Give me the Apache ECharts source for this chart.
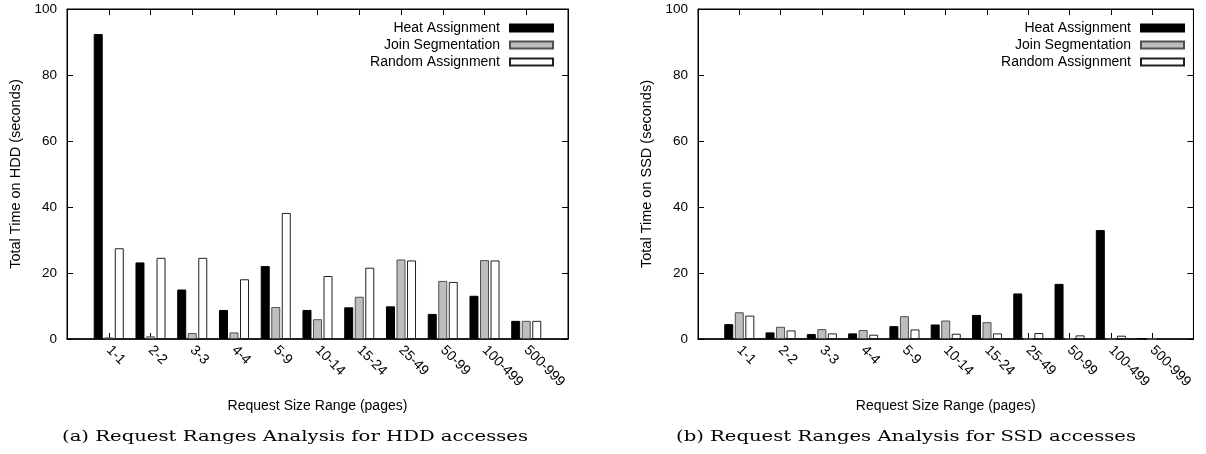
<!DOCTYPE html>
<html>
<head>
<meta charset="utf-8">
<script src="https://cdn.jsdelivr.net/npm/echarts@6/dist/echarts.min.js"></script>
<style>
  html, body { margin: 0; padding: 0; background: #fff; }
  #chart { width: 1206px; height: 454px; }
</style>
</head>
<body>
<div id="chart"></div>
<script>
// Request size ranges (pages)
const categories = ['1-1', '2-2', '3-3', '4-4', '5-9', '10-14', '15-24', '25-49', '50-99', '100-499', '500-999'];

// Total time on HDD (seconds)
const hddHeat   = [92.4, 23.2, 15.0, 8.8, 22.1, 8.8, 9.6, 9.9, 7.6, 13.1, 5.5];
const hddJoin   = [0.5, 0.8, 1.8, 2.0, 9.7, 6.0, 12.8, 24.1, 17.6, 23.9, 5.5];
const hddRandom = [27.5, 24.6, 24.6, 18.1, 38.2, 19.1, 21.6, 23.8, 17.3, 23.8, 5.5];

// Total time on SSD (seconds)
const ssdHeat   = [4.5, 2.0, 1.5, 1.7, 3.9, 4.4, 7.3, 13.8, 16.7, 33.0, 0.2];
const ssdJoin   = [8.1, 3.7, 3.0, 2.7, 6.9, 5.6, 5.1, 0, 0, 0, 0];
const ssdRandom = [7.1, 2.6, 1.7, 1.3, 2.9, 1.6, 1.7, 1.8, 1.1, 1.0, 0.2];

const seriesNames = ['Heat Assignment', 'Join Segmentation', 'Random Assignment'];
const yTitles = ['Total Time on HDD (seconds)', 'Total Time on SSD (seconds)'];
const xTitle = 'Request Size Range (pages)';
const captions = ['(a) Request Ranges Analysis for HDD accesses', '(b) Request Ranges Analysis for SSD accesses'];
const yMin = 0, yMax = 100, yStep = 20;

const panels = [
  { values: [hddHeat, hddJoin, hddRandom], yTitle: yTitles[0], caption: captions[0] },
  { values: [ssdHeat, ssdJoin, ssdRandom], yTitle: yTitles[1], caption: captions[1] }
];

// one empty slot at each end keeps the groups a full step away from the frame
const slots = [' ', ...categories, '  '];
const padded = v => ['-', ...v, '-'];

const SANS = '"Liberation Sans", Arial, Helvetica, sans-serif';
const SERIF = '"DejaVu Serif", "Liberation Serif", serif';

const barStyles = [
  { color: '#000000', borderColor: '#000000' },
  { color: '#bebebe', borderColor: '#505050' },
  { color: '#ffffff', borderColor: '#202020' }
];

const frame = { top: 9, width: 501, height: 330, lefts: [67, 698] };
const captionLayout = [{ cx: 295, w: 466 }, { cx: 906, w: 460 }];
const captionY = 437;

function textWidth(text, font) {
  const ctx = document.createElement('canvas').getContext('2d');
  ctx.font = font;
  return ctx.measureText(text).width;
}

const grid = [], xAxis = [], yAxis = [], series = [], legend = [], graphic = [];

panels.forEach((p, i) => {
  grid.push({
    left: frame.lefts[i], top: frame.top, width: frame.width, height: frame.height,
    show: true, borderColor: '#000', borderWidth: 1, backgroundColor: 'transparent'
  });

  const tick = { show: true, inside: true, length: 6, interval: 0, lineStyle: { color: '#000', width: 1 } };
  const line = { show: true, onZero: false, lineStyle: { color: '#000', width: 1 } };

  xAxis.push({
    gridIndex: i, type: 'category', data: slots, boundaryGap: false, position: 'bottom',
    axisLine: { show: true, onZero: false, lineStyle: { color: '#000', width: 1.5 } },
    axisTick: tick,
    axisLabel: { interval: 0, rotate: -45, margin: 9, color: '#000', fontFamily: SANS, fontSize: 14 },
    name: xTitle, nameLocation: 'middle', nameGap: 60,
    nameTextStyle: { color: '#000', fontFamily: SANS, fontSize: 14 },
    splitLine: { show: false }
  });
  xAxis.push({
    gridIndex: i, type: 'category', data: slots, boundaryGap: false, position: 'top',
    axisLine: line, axisTick: tick, axisLabel: { show: false }, splitLine: { show: false }
  });

  yAxis.push({
    gridIndex: i, type: 'value', min: yMin, max: yMax, interval: yStep, position: 'left',
    axisLine: line, axisTick: { ...tick, interval: 'auto' },
    axisLabel: { margin: 10, color: '#000', fontFamily: SANS, fontSize: 13.5 },
    splitLine: { show: false },
    name: p.yTitle, nameLocation: 'middle', nameRotate: 90, nameGap: 44,
    nameTextStyle: { color: '#000', fontFamily: SANS, fontSize: 14.5 }
  });
  yAxis.push({
    gridIndex: i, type: 'value', min: yMin, max: yMax, interval: yStep, position: 'right',
    axisLine: line, axisTick: { ...tick, interval: 'auto' },
    axisLabel: { show: false }, splitLine: { show: false }
  });

  p.values.forEach((vals, k) => {
    series.push({
      type: 'bar', name: seriesNames[k],
      xAxisIndex: i * 2, yAxisIndex: i * 2,
      data: padded(vals),
      barWidth: 9, barGap: '17%',
      itemStyle: { ...barStyles[k], borderWidth: 1 },
      emphasis: { disabled: true },
      animation: false
    });
  });

  legend.push({
    orient: 'vertical', align: 'right', icon: 'rect', padding: 0,
    right: 1206 - (frame.lefts[i] + frame.width - 14), top: 21,
    itemWidth: 43, itemHeight: 7, itemGap: 3,
    selectedMode: false, data: seriesNames,
    textStyle: { color: '#000', fontFamily: SANS, fontSize: 14, padding: [0, 5, 0, 0] }
  });

  const capFont = '14px ' + SERIF;
  const natural = textWidth(p.caption, capFont) || captionLayout[i].w;
  graphic.push({
    type: 'text', x: captionLayout[i].cx, y: captionY,
    scaleX: captionLayout[i].w / natural,
    style: { text: p.caption, x: 0, y: 0, align: 'center', verticalAlign: 'middle', font: capFont, fill: '#000' }
  });
});

const chart = echarts.init(document.getElementById('chart'), null, { renderer: 'canvas' });
chart.setOption({
  backgroundColor: '#fff',
  animation: false,
  tooltip: { show: false },
  grid, xAxis, yAxis, series, legend, graphic
});
</script>
</body>
</html>
